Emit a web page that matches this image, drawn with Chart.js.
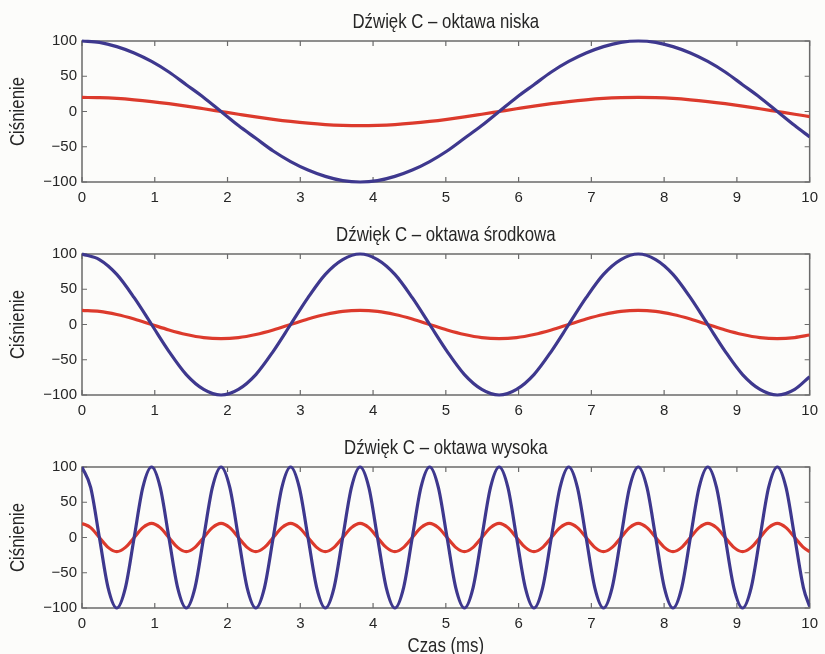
<!DOCTYPE html>
<html>
<head>
<meta charset="utf-8">
<script src="https://cdn.jsdelivr.net/npm/chart.js@4.4.1/dist/chart.umd.min.js"></script>
<style>
  html, body { margin: 0; padding: 0; background: #fcfcfa; width: 825px; height: 654px; overflow: hidden; }
  canvas { position: absolute; left: 0; }
</style>
</head>
<body>
<canvas id="c0" width="825" height="213" style="top:0px"></canvas>
<canvas id="c1" width="825" height="213" style="top:213px"></canvas>
<canvas id="c2" width="825" height="240" style="top:426px"></canvas>
<script>
// ---- text ----
const titles = ['Dźwięk C – oktawa niska', 'Dźwięk C – oktawa środkowa', 'Dźwięk C – oktawa wysoka'];
const yLabel = 'Ciśnienie';
const xLabel = 'Czas (ms)';

// ---- tick labels ----
const xTicks = [0, 1, 2, 3, 4, 5, 6, 7, 8, 9, 10];
const yTicks = [-100, -50, 0, 50, 100];

// ---- sample times (ms) for the low and middle octave ----
const sampleTime = [0, 0.239, 0.478, 0.717, 0.956, 1.194, 1.433, 1.672, 1.911, 2.150,
  2.389, 2.628, 2.867, 3.106, 3.344, 3.583, 3.822, 4.061, 4.300, 4.539,
  4.778, 5.017, 5.256, 5.494, 5.733, 5.972, 6.211, 6.450, 6.689, 6.928,
  7.167, 7.406, 7.645, 7.884, 8.122, 8.361, 8.600, 8.839, 9.078, 9.317,
  9.556, 9.795, 10];

// ---- low octave ----
const lowBlue = [100, 98, 92, 83, 71, 56, 38, 20, 0, -20,
  -38, -56, -71, -83, -92, -98, -100, -98, -92, -83,
  -71, -56, -38, -20, 0, 20, 38, 56, 71, 83,
  92, 98, 100, 98, 92, 83, 71, 56, 38, 20,
  0, -20, -36];
const lowRed = [20, 19.6, 18.5, 16.6, 14.1, 11.1, 7.7, 3.9, 0, -3.9,
  -7.7, -11.1, -14.1, -16.6, -18.5, -19.6, -20, -19.6, -18.5, -16.6,
  -14.1, -11.1, -7.7, -3.9, 0, 3.9, 7.7, 11.1, 14.1, 16.6,
  18.5, 19.6, 20, 19.6, 18.5, 16.6, 14.1, 11.1, 7.7, 3.9,
  0, -3.9, -7.2];

// ---- middle octave ----
const midBlue = [100, 92, 71, 38, 0, -38, -71, -92, -100, -92,
  -71, -38, 0, 38, 71, 92, 100, 92, 71, 38,
  0, -38, -71, -92, -100, -92, -71, -38, 0, 38,
  71, 92, 100, 92, 71, 38, 0, -38, -71, -92,
  -100, -92, -74];
const midRed = [20, 18.5, 14.1, 7.7, 0, -7.7, -14.1, -18.5, -20, -18.5,
  -14.1, -7.7, 0, 7.7, 14.1, 18.5, 20, 18.5, 14.1, 7.7,
  0, -7.7, -14.1, -18.5, -20, -18.5, -14.1, -7.7, 0, 7.7,
  14.1, 18.5, 20, 18.5, 14.1, 7.7, 0, -7.7, -14.1, -18.5,
  -20, -18.5, -14.9];

// ---- high octave ----
const highTime = [0, 0.119, 0.239, 0.358, 0.478, 0.597, 0.717, 0.836,
  0.956, 1.075, 1.194, 1.314, 1.433, 1.553, 1.672, 1.792,
  1.911, 2.031, 2.150, 2.269, 2.389, 2.508, 2.628, 2.747,
  2.867, 2.986, 3.106, 3.225, 3.344, 3.464, 3.583, 3.703,
  3.822, 3.942, 4.061, 4.181, 4.300, 4.420, 4.539, 4.658,
  4.778, 4.897, 5.017, 5.136, 5.256, 5.375, 5.494, 5.614,
  5.733, 5.853, 5.972, 6.092, 6.211, 6.331, 6.450, 6.570,
  6.689, 6.808, 6.928, 7.047, 7.167, 7.286, 7.406, 7.525,
  7.645, 7.764, 7.884, 8.003, 8.122, 8.242, 8.361, 8.481,
  8.600, 8.720, 8.839, 8.958, 9.078, 9.197, 9.317, 9.436,
  9.556, 9.675, 9.795, 9.914, 10];
const highBlue = [100, 71, 0, -71, -100, -71, 0, 71,
  100, 71, 0, -71, -100, -71, 0, 71,
  100, 71, 0, -71, -100, -71, 0, 71,
  100, 71, 0, -71, -100, -71, 0, 71,
  100, 71, 0, -71, -100, -71, 0, 71,
  100, 71, 0, -71, -100, -71, 0, 71,
  100, 71, 0, -71, -100, -71, 0, 71,
  100, 71, 0, -71, -100, -71, 0, 71,
  100, 71, 0, -71, -100, -71, 0, 71,
  100, 71, 0, -71, -100, -71, 0, 71,
  100, 71, 0, -71, -98];
const highRed = [20, 14, 0, -14, -20, -14, 0, 14,
  20, 14, 0, -14, -20, -14, 0, 14,
  20, 14, 0, -14, -20, -14, 0, 14,
  20, 14, 0, -14, -20, -14, 0, 14,
  20, 14, 0, -14, -20, -14, 0, 14,
  20, 14, 0, -14, -20, -14, 0, 14,
  20, 14, 0, -14, -20, -14, 0, 14,
  20, 14, 0, -14, -20, -14, 0, 14,
  20, 14, 0, -14, -20, -14, 0, 14,
  20, 14, 0, -14, -20, -14, 0, 14,
  20, 14, 0, -14, -20];

const BLUE = '#3e388e';
const RED = '#dc3a2c';
const AXIS = '#6a6a6a';
const TEXT = '#262626';

function pts(xs, ys) { return xs.map((x, i) => ({ x: x, y: ys[i] })); }

// MATLAB-like box with inward ticks on all four sides
const boxPlugin = {
  id: 'box',
  beforeDatasetsDraw(chart) {
    const { ctx, chartArea: a, scales } = chart;
    ctx.save();
    ctx.strokeStyle = AXIS;
    ctx.lineWidth = 1.5;
    ctx.strokeRect(a.left, a.top, a.right - a.left, a.bottom - a.top);
    ctx.lineWidth = 1.2;
    const tl = 5;
    ctx.beginPath();
    xTicks.forEach(v => {
      const px = scales.x.getPixelForValue(v);
      ctx.moveTo(px, a.bottom); ctx.lineTo(px, a.bottom - tl);
      ctx.moveTo(px, a.top); ctx.lineTo(px, a.top + tl);
    });
    yTicks.forEach(v => {
      const py = scales.y.getPixelForValue(v);
      ctx.moveTo(a.left, py); ctx.lineTo(a.left + tl, py);
      ctx.moveTo(a.right, py); ctx.lineTo(a.right - tl, py);
    });
    ctx.stroke();
    ctx.restore();
  }
};

// condensed-looking titles (text drawn with a horizontal squeeze)
const labelPlugin = {
  id: 'labels',
  afterDraw(chart, args, opts) {
    const { ctx, chartArea: a } = chart;
    const sx = 0.8;
    ctx.save();
    ctx.fillStyle = TEXT;
    ctx.font = '21px "Liberation Sans", Arial, sans-serif';
    ctx.textAlign = 'center';
    ctx.textBaseline = 'middle';
    const cx = (a.left + a.right) / 2;
    ctx.save();
    ctx.translate(cx, 22);
    ctx.scale(sx, 1);
    ctx.fillText(opts.title, 0, 0);
    ctx.restore();
    ctx.save();
    ctx.translate(18, (a.top + a.bottom) / 2);
    ctx.rotate(-Math.PI / 2);
    ctx.scale(sx, 1);
    ctx.fillText(yLabel, 0, 0);
    ctx.restore();
    if (opts.xlabel) {
      ctx.save();
      ctx.translate(cx, a.bottom + 38);
      ctx.scale(sx, 1);
      ctx.fillText(xLabel, 0, 0);
      ctx.restore();
    }
    ctx.restore();
  }
};

function makeChart(id, title, xs, blue, red, showX) {
  const canvas = document.getElementById(id);
  const h = canvas.height;
  const lineClip = { left: 0, right: 0, top: 4, bottom: 4 };
  return new Chart(canvas, {
    type: 'line',
    data: {
      datasets: [
        { data: pts(xs, blue), borderColor: BLUE, borderWidth: 3.2, pointRadius: 0, cubicInterpolationMode: 'monotone', clip: lineClip, fill: false },
        { data: pts(xs, red), borderColor: RED, borderWidth: 3.2, pointRadius: 0, cubicInterpolationMode: 'monotone', clip: lineClip, fill: false }
      ]
    },
    options: {
      responsive: false,
      animation: false,
      devicePixelRatio: 1,
      layout: { padding: { top: 41, right: 11, left: 0, bottom: 0 } },
      plugins: {
        legend: { display: false },
        tooltip: { enabled: false },
        labels: { title: title, xlabel: showX }
      },
      scales: {
        x: {
          type: 'linear', min: 0, max: 10,
          afterBuildTicks: s => { s.ticks = xTicks.map(v => ({ value: v })); },
          ticks: { color: TEXT, font: { family: '"Liberation Sans", Arial, sans-serif', size: 15 }, padding: 7, maxRotation: 0, autoSkip: false },
          grid: { display: false, drawTicks: false },
          border: { display: false },
          afterFit: s => { s.height = h - 182; }
        },
        y: {
          min: -100, max: 100,
          afterBuildTicks: s => { s.ticks = yTicks.map(v => ({ value: v })); },
          ticks: {
            color: TEXT, font: { family: '"Liberation Sans", Arial, sans-serif', size: 15 }, padding: 5,
            callback: v => (v < 0 ? '\u2212' + Math.abs(v) : String(v))
          },
          grid: { display: false, drawTicks: false },
          border: { display: false },
          afterFit: s => { s.width = 82; }
        }
      }
    },
    plugins: [boxPlugin, labelPlugin]
  });
}

makeChart('c0', titles[0], sampleTime, lowBlue, lowRed, false);
makeChart('c1', titles[1], sampleTime, midBlue, midRed, false);
makeChart('c2', titles[2], highTime, highBlue, highRed, true);
</script>
</body>
</html>
